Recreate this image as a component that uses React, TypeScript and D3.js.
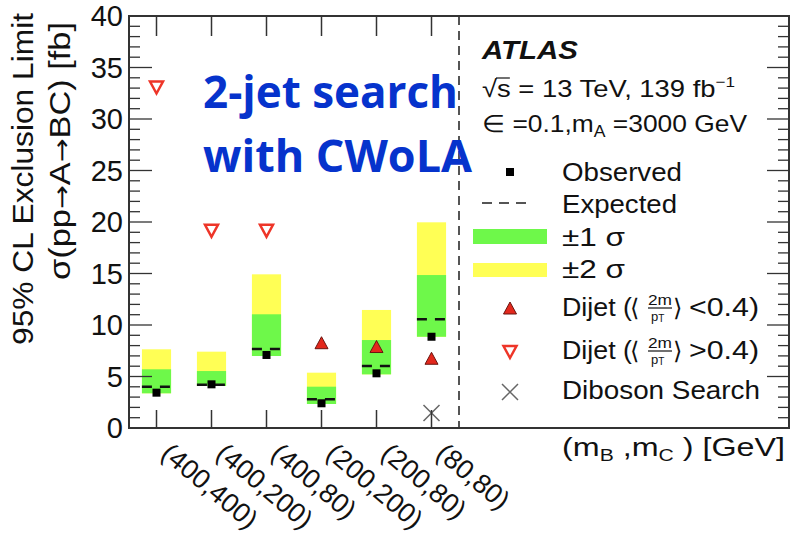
import React, { useEffect, useRef } from "react";
import * as d3 from "d3";

// mass points (m_B, m_C)
const categories = ["(400,400)", "(400,200)", "(400,80)", "(200,200)", "(200,80)", "(80,80)"];
// limits in fb
const observed = [3.43, 4.24, 7.09, 2.4, 5.31, 8.86];
const expected = [4.01, 4.2, 7.67, 2.79, 6.02, 10.55];
const plus1 = [5.7, 5.53, 11.04, 4.01, 8.54, 14.85];
const minus1 = [3.37, 4.08, 6.99, 2.33, 5.21, 8.86];
const plus2 = [7.64, 7.41, 14.92, 5.37, 11.46, 19.97];
const minus2 = [3.37, 4.08, 6.99, 2.33, 5.21, 8.86];
const dijetLow: (number | null)[] = [null, null, null, 8.28, 7.91, 6.77];
const dijetHigh: (number | null)[] = [33.06, 19.15, 19.15, null, null, null];
const diboson: (number | null)[] = [null, null, null, null, null, 1.46];
const yTickLabels = [0, 5, 10, 15, 20, 25, 30, 35, 40];

const FONT = "'Liberation Sans', Arial, Helvetica, sans-serif";
const GREEN = "#6ef84a";
const YELLOW = "#ffff55";
const RED = "#e3281c";

const upTri = (w: number, h: number) => `M0,${-h / 2}L${w / 2},${h / 2}L${-w / 2},${h / 2}Z`;
const downTri = (w: number, h: number) => `M${-w / 2},${-h / 2}L${w / 2},${-h / 2}L0,${h / 2}Z`;

export default function App() {
  const ref = useRef<SVGSVGElement>(null);

  useEffect(() => {
    const svg = d3.select(ref.current);
    svg.selectAll("*").remove();

    const x = d3.scaleLinear().domain([0, 12]).range([129, 789]);
    const y = d3.scaleLinear().domain([0, 40]).range([428, 16]);
    const half = 0.265; // half width of a band, in bins
    const idx = d3.range(categories.length);
    const cx = (i: number) => x(i + 0.5);

    const g = svg.append("g");

    // +-2 sigma, +-1 sigma bands
    g.selectAll("rect.y2").data(idx).join("rect")
      .attr("x", i => x(i + 0.5 - half))
      .attr("width", x(2 * half) - x(0))
      .attr("y", i => y(plus2[i]))
      .attr("height", i => y(minus2[i]) - y(plus2[i]))
      .attr("fill", YELLOW);
    g.selectAll("rect.g1").data(idx).join("rect")
      .attr("x", i => x(i + 0.5 - half))
      .attr("width", x(2 * half) - x(0))
      .attr("y", i => y(plus1[i]))
      .attr("height", i => y(minus1[i]) - y(plus1[i]))
      .attr("fill", GREEN);

    // expected
    g.selectAll("line.exp").data(idx).join("line")
      .attr("x1", i => x(i + 0.5 - half)).attr("x2", i => x(i + 0.5 + half))
      .attr("y1", i => y(expected[i])).attr("y2", i => y(expected[i]))
      .attr("stroke", "#111").attr("stroke-width", 2.5).attr("stroke-dasharray", "10,8");

    // observed
    g.selectAll("rect.obs").data(idx).join("rect")
      .attr("x", i => cx(i) - 4).attr("y", i => y(observed[i]) - 4)
      .attr("width", 8).attr("height", 8).attr("fill", "#000");

    // dijet markers
    g.selectAll("path.low").data(idx.filter(i => dijetLow[i] != null)).join("path")
      .attr("d", upTri(13, 12))
      .attr("transform", i => `translate(${cx(i)},${y(dijetLow[i] as number)})`)
      .attr("fill", RED).attr("stroke", "#6a1510").attr("stroke-width", 1);
    g.selectAll("path.high").data(idx.filter(i => dijetHigh[i] != null)).join("path")
      .attr("d", downTri(13, 12))
      .attr("transform", i => `translate(${cx(i)},${y(dijetHigh[i] as number)})`)
      .attr("fill", "#fff").attr("stroke", "#ee3528").attr("stroke-width", 2.5);
    // diboson
    idx.filter(i => diboson[i] != null).forEach(i => {
      const px = cx(i), py = y(diboson[i] as number);
      g.append("path")
        .attr("d", `M${px - 8},${py - 8}L${px + 8},${py + 8}M${px - 8},${py + 8}L${px + 8},${py - 8}`)
        .attr("stroke", "#666").attr("stroke-width", 1.5).attr("fill", "none");
    });

    // vertical dashed separator
    g.append("line")
      .attr("x1", x(6)).attr("x2", x(6)).attr("y1", y(40)).attr("y2", y(0))
      .attr("stroke", "#555").attr("stroke-width", 2).attr("stroke-dasharray", "9,6");

    // frame and ticks
    const axisCol = "#333";
    g.append("rect").attr("x", x(0)).attr("y", y(40)).attr("width", x(12) - x(0)).attr("height", y(0) - y(40))
      .attr("fill", "none").attr("stroke", axisCol).attr("stroke-width", 2);
    const minor = d3.range(0, 41);
    g.selectAll("line.lt").data(minor).join("line")
      .attr("x1", x(0)).attr("x2", v => x(0) + (v % 5 === 0 ? 23 : 11))
      .attr("y1", v => y(v)).attr("y2", v => y(v))
      .attr("stroke", axisCol).attr("stroke-width", 1.3);
    g.selectAll("line.rt").data(minor).join("line")
      .attr("x1", x(12)).attr("x2", v => x(12) - (v % 5 === 0 ? 22 : 11))
      .attr("y1", v => y(v)).attr("y2", v => y(v))
      .attr("stroke", axisCol).attr("stroke-width", 1.3);
    g.selectAll("line.tt").data(idx).join("line")
      .attr("x1", cx).attr("x2", cx).attr("y1", y(40)).attr("y2", y(40) + 20)
      .attr("stroke", axisCol).attr("stroke-width", 1.5);
    g.selectAll("line.bt").data(idx).join("line")
      .attr("x1", cx).attr("x2", cx).attr("y1", y(0)).attr("y2", y(0) - 18)
      .attr("stroke", axisCol).attr("stroke-width", 1.5);

    // y tick labels
    g.selectAll("text.yl").data(yTickLabels).join("text")
      .attr("x", 123).attr("y", v => y(v)).attr("dy", "0.36em")
      .attr("text-anchor", "end").attr("font-family", FONT).attr("font-size", 29)
      .attr("fill", "#111").text(v => v);

    // x tick labels (rotated)
    g.selectAll("text.xl").data(idx).join("text")
      .attr("transform", i => `translate(${cx(i) + 3},456) rotate(40)`)
      .attr("font-family", FONT).attr("font-size", 27).attr("fill", "#111")
      .text(i => categories[i]);

    // y title
    g.append("text").attr("transform", "translate(33,179) rotate(-90)")
      .attr("text-anchor", "middle").attr("font-family", FONT).attr("font-size", 29)
      .attr("textLength", 332).attr("lengthAdjust", "spacingAndGlyphs").attr("fill", "#111")
      .text("95% CL Exclusion Limit");
    const yt2 = g.append("text").attr("transform", "translate(70,151) rotate(-90)")
      .attr("text-anchor", "middle").attr("font-family", FONT).attr("font-size", 29)
      .attr("textLength", 258).attr("lengthAdjust", "spacingAndGlyphs").attr("fill", "#111");
    yt2.append("tspan").text("σ(pp");
    yt2.append("tspan").attr("font-family", "'DejaVu Sans', sans-serif").attr("font-size", 24).text("→");
    yt2.append("tspan").text("A");
    yt2.append("tspan").attr("font-family", "'DejaVu Sans', sans-serif").attr("font-size", 24).text("→");
    yt2.append("tspan").text("BC) [fb]");

    // x title
    const xt = g.append("text").attr("x", 562).attr("y", 456).attr("font-family", FONT)
      .attr("font-size", 26).attr("fill", "#111")
      .attr("textLength", 223).attr("lengthAdjust", "spacingAndGlyphs");
    xt.append("tspan").text("(m");
    xt.append("tspan").attr("font-size", 17).attr("dy", 5).text("B");
    xt.append("tspan").attr("dy", -5).text(" ,m");
    xt.append("tspan").attr("font-size", 17).attr("dy", 5).text("C");
    xt.append("tspan").attr("dy", -5).text(" ) [GeV]");

    // blue annotation
    const blue = "#0633cc";
    g.append("text").attr("x", 203).attr("y", 108).attr("font-family", "'Open Sans', Lato, sans-serif")
      .attr("font-weight", 700).attr("font-size", 44).attr("fill", blue)
      .attr("textLength", 255).attr("lengthAdjust", "spacingAndGlyphs").text("2-jet search");
    g.append("text").attr("x", 203).attr("y", 172).attr("font-family", "'Open Sans', Lato, sans-serif")
      .attr("font-weight", 700).attr("font-size", 44).attr("fill", blue)
      .attr("textLength", 269).attr("lengthAdjust", "spacingAndGlyphs").text("with CWoLA");

    // ATLAS labels
    g.append("text").attr("x", 482).attr("y", 59).attr("font-family", FONT)
      .attr("font-weight", 700).attr("font-style", "italic").attr("font-size", 26).attr("fill", "#111")
      .attr("textLength", 96).attr("lengthAdjust", "spacingAndGlyphs").text("ATLAS");
    const s1 = g.append("text").attr("x", 482).attr("y", 97).attr("font-family", FONT)
      .attr("font-size", 24).attr("fill", "#111")
      .attr("textLength", 253).attr("lengthAdjust", "spacingAndGlyphs");
    s1.append("tspan").text("√s = 13 TeV, 139 fb");
    s1.append("tspan").attr("font-size", 15).attr("dy", -10).text("−1");
    g.append("line").attr("x1", 496).attr("x2", 510).attr("y1", 78).attr("y2", 78)
      .attr("stroke", "#111").attr("stroke-width", 1.2);
    const s2 = g.append("text").attr("x", 482).attr("y", 132).attr("font-family", FONT)
      .attr("font-size", 24).attr("fill", "#111")
      .attr("textLength", 265).attr("lengthAdjust", "spacingAndGlyphs");
    s2.append("tspan").text("∈ =0.1,m");
    s2.append("tspan").attr("font-size", 16).attr("dy", 5).text("A");
    s2.append("tspan").attr("dy", -5).text(" =3000 GeV");

    // legend
    const lx = 562;
    const legText = (yy: number, t: string, len: number) =>
      g.append("text").attr("x", lx).attr("y", yy).attr("font-family", FONT).attr("font-size", 25)
        .attr("fill", "#111").attr("textLength", len).attr("lengthAdjust", "spacingAndGlyphs").text(t);

    g.append("rect").attr("x", 506).attr("y", 168).attr("width", 8).attr("height", 8).attr("fill", "#000");
    legText(181, "Observed", 120);
    g.append("line").attr("x1", 482).attr("x2", 532).attr("y1", 203).attr("y2", 203)
      .attr("stroke", "#555").attr("stroke-width", 2).attr("stroke-dasharray", "10,7");
    legText(213, "Expected", 115);
    g.append("rect").attr("x", 473).attr("y", 229).attr("width", 74).attr("height", 15).attr("fill", GREEN);
    legText(246, "±1 σ", 63);
    g.append("rect").attr("x", 473).attr("y", 263).attr("width", 74).attr("height", 14).attr("fill", YELLOW);
    legText(278, "±2 σ", 63);

    g.append("path").attr("d", upTri(13, 12)).attr("transform", "translate(510,308)")
      .attr("fill", RED).attr("stroke", "#6a1510").attr("stroke-width", 1);
    g.append("path").attr("d", downTri(13, 12)).attr("transform", "translate(510,352)")
      .attr("fill", "#fff").attr("stroke", "#ee3528").attr("stroke-width", 2.5);

    const dijet = (yy: number, rel: string) => {
      legText(yy, "Dijet (", 70);
      g.append("text").attr("x", 630).attr("y", yy).attr("font-family", "'DejaVu Sans', sans-serif")
        .attr("font-size", 24).attr("fill", "#111").text("⟨");
      g.append("text").attr("x", 660).attr("y", yy - 11).attr("text-anchor", "middle")
        .attr("font-family", FONT).attr("font-size", 14).attr("fill", "#111")
        .attr("textLength", 24).attr("lengthAdjust", "spacingAndGlyphs").text("2m");
      g.append("line").attr("x1", 648).attr("x2", 672).attr("y1", yy - 8).attr("y2", yy - 8)
        .attr("stroke", "#111").attr("stroke-width", 1.2);
      const pt = g.append("text").attr("x", 651).attr("y", yy + 5)
        .attr("font-family", FONT).attr("font-size", 13).attr("fill", "#111");
      pt.append("tspan").text("p");
      pt.append("tspan").attr("font-size", 10).attr("dy", 1).text("T");
      g.append("text").attr("x", 673).attr("y", yy).attr("font-family", "'DejaVu Sans', sans-serif")
        .attr("font-size", 24).attr("fill", "#111").text("⟩");
      g.append("text").attr("x", 689).attr("y", yy).attr("font-family", FONT).attr("font-size", 25)
        .attr("fill", "#111").attr("textLength", 70).attr("lengthAdjust", "spacingAndGlyphs").text(rel + "0.4)");
    };
    dijet(316, "<");
    dijet(359, ">");

    g.append("path").attr("d", "M502,384L518,400M502,400L518,384")
      .attr("stroke", "#666").attr("stroke-width", 1.5);
    legText(399, "Diboson Search", 198);
  }, []);

  return (
    <svg
      ref={ref}
      width={798}
      height={540}
      style={{ position: "absolute", left: 0, top: 0, background: "#fff" }}
    />
  );
}
